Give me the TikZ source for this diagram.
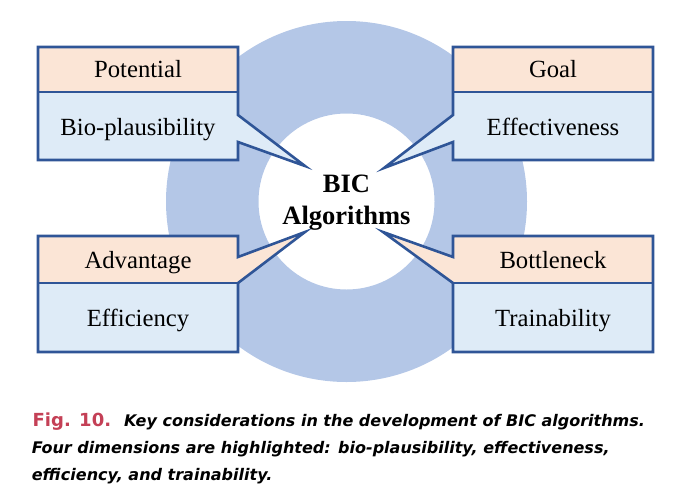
\documentclass[tikz,border=0pt]{standalone}
\usepackage{fontspec}
\setmainfont{Liberation Serif}
\newfontfamily\capfont{DejaVu Sans}

\definecolor{ringblue}{HTML}{B4C7E7}
\definecolor{headfill}{HTML}{FBE5D6}
\definecolor{bodyfill}{HTML}{DEEBF7}
\definecolor{edgeblue}{HTML}{2F5597}
\definecolor{figred}{RGB}{196,64,86}

\tikzset{
  edge/.style={draw=edgeblue, line width=2.6pt, line join=miter},
  lbl/.style={anchor=base, inner sep=0pt, font=\fontsize{24.7}{28}\selectfont},
  core/.style={anchor=base, inner sep=0pt, font=\bfseries\fontsize{26.5}{30}\selectfont},
  capline/.style={anchor=base west, inner sep=0pt, font=\capfont\bfseries\itshape\fontsize{16}{19}\selectfont},
}

\begin{document}
\begin{tikzpicture}[x=1pt,y=-1pt]
\useasboundingbox (0,0) rectangle (674,493);

% ring behind everything
\coordinate (hub) at (346.5,201.5);
\fill[ringblue, even odd rule] (hub) circle[radius=180.5pt] (hub) circle[radius=88pt];

% pointer tips
\coordinate (tlTip) at (305,166);
\coordinate (trTip) at (384,168);
\coordinate (blTip) at (305,232);
\coordinate (brTip) at (383,232);

% top-left callout: Potential / Bio-plausibility
\fill[bodyfill] (38,92) -- (238,92) -- (238,115) -- (tlTip) -- (238,142) -- (238,160) -- (38,160) -- cycle;
\fill[headfill] (38,47) rectangle (238,92);
\draw[edge] (38,47) -- (238,47) -- (238,115) -- (tlTip) -- (238,142) -- (238,160) -- (38,160) -- cycle;
\draw[edge] (38,92) -- (238,92);

% top-right callout: Goal / Effectiveness
\fill[bodyfill] (453,92) -- (653,92) -- (653,160) -- (453,160) -- (453,142) -- (trTip) -- (453,115) -- cycle;
\fill[headfill] (453,47) rectangle (653,92);
\draw[edge] (453,47) -- (653,47) -- (653,160) -- (453,160) -- (453,142) -- (trTip) -- (453,115) -- cycle;
\draw[edge] (453,92) -- (653,92);

% bottom-left callout: Advantage / Efficiency
\fill[headfill] (38,236) -- (238,236) -- (238,257) -- (blTip) -- (238,283) -- (38,283) -- cycle;
\fill[bodyfill] (38,283) rectangle (238,352);
\draw[edge] (38,236) -- (238,236) -- (238,257) -- (blTip) -- (238,283) -- (238,352) -- (38,352) -- cycle;
\draw[edge] (38,283) -- (238,283);

% bottom-right callout: Bottleneck / Trainability
\fill[headfill] (453,236) -- (653,236) -- (653,283) -- (453,283) -- (brTip) -- (453,257) -- cycle;
\fill[bodyfill] (453,283) rectangle (653,352);
\draw[edge] (453,236) -- (653,236) -- (653,352) -- (453,352) -- (453,283) -- (brTip) -- (453,257) -- cycle;
\draw[edge] (453,283) -- (653,283);

% labels
\node[lbl] (potential) at (138,77.5) {Potential};
\node[lbl] (bio) at (138,135) {Bio-plausibility};
\node[lbl] (goal) at (553,77.5) {Goal};
\node[lbl] (effect) at (553,135) {Effectiveness};
\node[lbl] (advantage) at (138,268) {Advantage};
\node[lbl] (effic) at (138,326) {Efficiency};
\node[lbl] (bottle) at (553,268) {Bottleneck};
\node[lbl] (train) at (553,326) {Trainability};

% centre title
\node[core] (bic) at (346.5,192) {BIC};
\node[core] (algo) at (346.5,224) {Algorithms};

% caption
\node[anchor=base west, inner sep=0pt, text=figred, font=\capfont\bfseries\fontsize{18}{20}\selectfont] (figtag) at (32.5,426.5) {Fig. 10.};
\node[capline] (cap1) at (124,426.5) {Key considerations in the development of BIC algorithms.};
\node[capline] (cap2) at (31.7,453) {Four dimensions are highlighted: bio-plausibility, effectiveness,};
\node[capline] (cap3) at (31.7,480) {efficiency, and trainability.};
\end{tikzpicture}
\end{document}
